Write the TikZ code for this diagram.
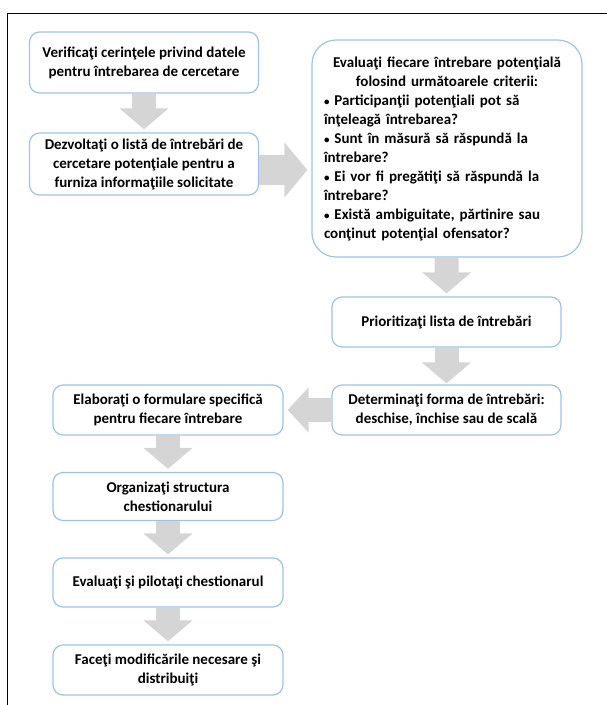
\documentclass[tikz,border=0pt]{standalone}
\usepackage{fontspec}
\setmainfont{Carlito}
\usetikzlibrary{arrows.meta,calc}
\definecolor{boxblue}{HTML}{9DC3E6}
\definecolor{arrowfill}{HTML}{D5D5D5}
\newcommand{\bul}{{\fontsize{11}{19}\selectfont •}}
\tikzset{
  stepbox/.style={draw=boxblue, line width=1.2pt, rounded corners=10pt, align=center,
    font=\fontsize{15}{19}\selectfont\bfseries, inner sep=2pt, minimum width=229pt},
  fatarrow/.style={draw=arrowfill, line width=24pt, -{Triangle[width=48pt,length=21pt]},
    shorten >=3pt},
}
\begin{document}
\begin{tikzpicture}[x=1pt,y=-1pt]
\useasboundingbox (0,0) rectangle (607,705);
\draw[line width=1pt] (7,705) -- (7,13) -- (607,13);

\node[stepbox, minimum height=61pt] (verif) at (144,62.5) {Verificaţi cerinţele privind datele\\pentru întrebarea de cercetare};
\node[stepbox, minimum height=62pt] (dezv) at (144,164) {Dezvoltaţi o listă de întrebări de\\cercetare potenţiale pentru a\\furniza informaţiile solicitate};
\node[stepbox, rounded corners=24pt, minimum width=270pt, minimum height=217pt, text width=246pt, align=left] (eval) at (447,148.5)
  {\makebox[\linewidth]{Evaluaţi fiecare întrebare potenţială}\\
   \makebox[\linewidth]{folosind următoarele criterii:}\\
   \bul{} Participanţii potenţiali pot să\\înţeleagă întrebarea?\\
   \bul{} Sunt în măsură să răspundă la\\întrebare?\\
   \bul{} Ei vor fi pregătiţi să răspundă la\\întrebare?\\
   \bul{} Există ambiguitate, părtinire sau\\conţinut potenţial ofensator?};
\node[stepbox, minimum height=50pt] (prior) at (446.5,322) {Prioritizaţi lista de întrebări};
\node[stepbox, minimum height=50pt] (determ) at (446.5,410) {Determinaţi forma de întrebări:\\deschise, închise sau de scală};
\node[stepbox, minimum width=230pt, minimum height=50pt] (elab) at (168,410) {Elaboraţi o formulare specifică\\pentru fiecare întrebare};
\node[stepbox, minimum width=230pt, minimum height=48pt] (organiz) at (168,496.5) {Organizaţi structura\\chestionarului};
\node[stepbox, minimum width=230pt, minimum height=49pt] (pilot) at (168,582.5) {Evaluaţi şi pilotaţi chestionarul};
\node[stepbox, minimum width=230pt, minimum height=50pt] (distrib) at (168,670) {Faceţi modificările necesare şi\\distribuiţi};

\draw[fatarrow] (verif) -- (dezv);
\draw[fatarrow, line width=30pt, -{Triangle[width=54pt,length=23pt]}, shorten >=4pt]
  ([yshift=-6pt]dezv.east) -- ([yshift=-6pt]dezv.east -| eval.west);
\draw[fatarrow] (eval) -- (prior);
\draw[fatarrow, shorten >=1pt] (prior) -- (determ);
\draw[fatarrow, -{Triangle[width=44pt,length=21pt]}, shorten >=4pt] (determ) -- (elab);
\draw[fatarrow] (elab) -- (organiz);
\draw[fatarrow] (organiz) -- (pilot);
\draw[fatarrow] (pilot) -- (distrib);
\end{tikzpicture}
\end{document}
